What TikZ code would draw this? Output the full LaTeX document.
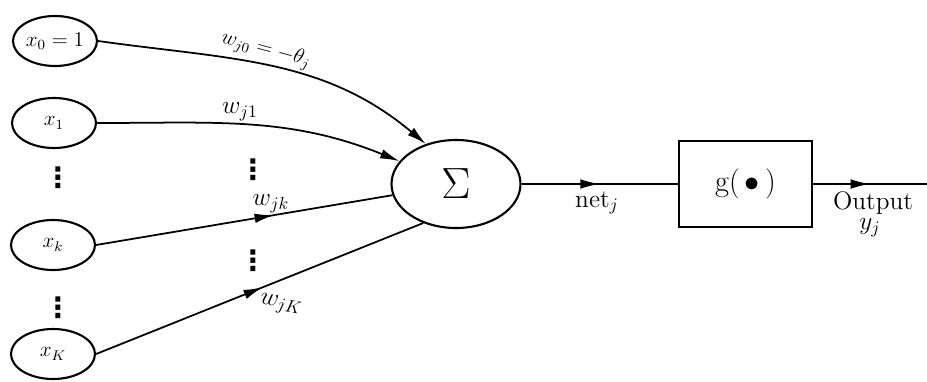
\documentclass[tikz,border=0pt]{standalone}
\usepackage{amsmath,amssymb}
\usepackage{fontspec}
\newfontfamily\dotsfont{DejaVu Sans}
\usetikzlibrary{arrows.meta,shapes.geometric,decorations.markings}

\tikzset{
  inp/.style={draw, ellipse, line width=1.2pt, minimum width=1.68cm, minimum height=1cm, inner sep=0pt, font=\large},
  wire/.style={line width=1pt},
  tip/.style={-{Latex[length=11pt,width=5.5pt]}},
  midarrow/.style={postaction={decorate}, decoration={markings,
      mark=at position #1 with {\arrow{Latex[length=11pt,width=5.5pt]}}}},
  dotsl/.style={font=\dotsfont\bfseries\fontsize{16}{16}\selectfont, inner sep=0pt},
}

\begin{document}
\begin{tikzpicture}
\useasboundingbox (0,0) rectangle (18.54,-7.62);

% Inputs
\node[inp] (x0) at (1.1,-0.82) {$x_0=1$};
\node[inp] (x1) at (1.08,-2.46) {$x_1$};
\node[inp] (xk) at (1.06,-4.9) {$x_k$};
\node[inp] (xK) at (1.06,-7.08) {$x_K$};
\node[dotsl] (d1) at (1.16,-3.56) {⋮};
\node[dotsl] (d2) at (1.16,-6.16) {⋮};

% Summation and activation
\node[draw, ellipse, line width=1.2pt, minimum width=2.58cm, minimum height=1.76cm, font=\Huge] (sum) at (9.12,-3.68) {$\Sigma$};
\node[draw, line width=1.2pt, minimum width=2.66cm, minimum height=1.72cm, font=\LARGE] (act) at (14.91,-3.68) {$\mathrm{g}(\,\bullet\,)$};
\coordinate (out) at (18.54,-3.68);

% Weighted connections
\draw[wire, tip] (x0.east) to[out=-8, in=140] (sum.127);
\draw[wire, tip] (x1.east) to[out=0, in=158] (sum.158);
\draw[wire, midarrow=0.6] (xk.east) -- (sum.190);
\draw[wire, midarrow=0.51] (xK.east) -- (sum.230);

% Output path
\draw[wire, midarrow=0.5] (sum) -- (act);
\draw[wire, midarrow=0.5] (act.east) -- (out);

% Labels
\node[font=\large, rotate=-15] (w0) at (5.32,-1.0) {$w_{j0}=-\theta_j$};
\node[font=\Large] (w1) at (4.8,-2.24) {$w_{j1}$};
\node[font=\Large] (wk) at (5.42,-4.08) {$w_{jk}$};
\node[font=\Large, rotate=-10] (wK) at (5.62,-6.1) {$w_{jK}$};
\node[dotsl] (d3) at (5.06,-3.4) {⋮};
\node[dotsl] (d4) at (5.06,-5.22) {⋮};
\node[font=\Large] (net) at (11.94,-4.06) {$\mathrm{net}_j$};
\node[font=\Large] (outl) at (17.46,-4.06) {Output};
\node[font=\Large] (yj) at (17.4,-4.56) {$y_j$};

\end{tikzpicture}
\end{document}
